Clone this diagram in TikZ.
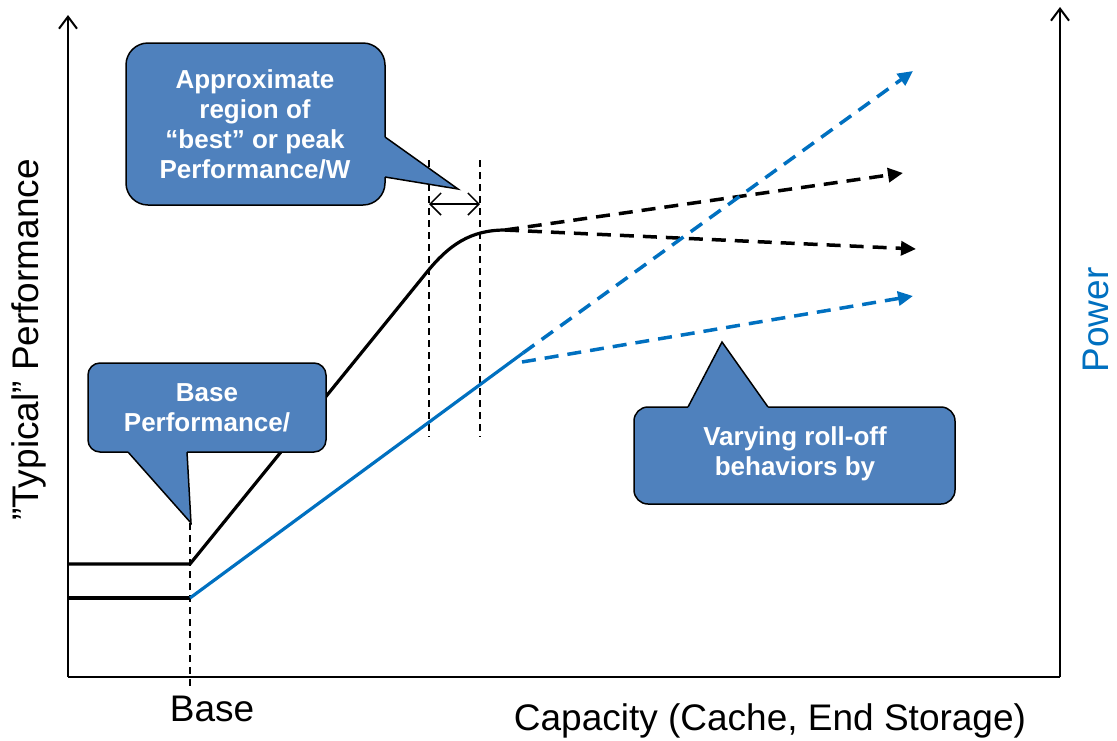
\documentclass[tikz,border=0pt]{standalone}
\usepackage{fontspec}
\setmainfont{Liberation Sans}
\usetikzlibrary{arrows.meta}
\definecolor{boxblue}{HTML}{4F81BD}
\definecolor{powerblue}{HTML}{0070C0}

\begin{document}
\begin{tikzpicture}[x = 1pt, y = -1pt,
                        axis/.style = {line width = 2pt, -{Straight Barb[length = 12pt, width = 18pt]}},
                        guide/.style = {line width = 1.3pt, dash pattern = on 7pt off 5pt},
                        perf/.style = {line width = 3.2pt, line join = round},
                        pow/.style = {line width = 3.2pt, draw = powerblue},
                        trend/.style = {line width = 3.5pt, dash pattern = on 14pt off 9pt, -{Triangle[length = 15pt, width = 14pt]}},
                        calloutbox/.style = {fill = boxblue, draw = black, line width = 1.5pt},
                        notetext/.style = {text = white, align = center, font = \fontsize{26}{30}\selectfont\bfseries},
                        axistext/.style = {inner sep = 0pt, font = \fontsize{37}{40}\selectfont}]
      \useasboundingbox (0, 0) rectangle (1117, 740);
      \coordinate (origin) at (68, 677);
      \coordinate (ytop) at (68, 15);
      \coordinate (xend) at (1060, 677);
      \coordinate (ptop) at (1060, 7);
      \draw [axis] (origin) -- (ytop);
      \draw [axis] (xend) -- (ptop);
      \draw [line width = 2pt] (origin) -- (xend);
      \coordinate (perfstart) at (68, 564);
      \coordinate (perfbase) at (190, 564);
      \coordinate (perfbend) at (427, 272);
      \coordinate (peak) at (505, 230);
      \coordinate (powstart) at (68, 598);
      \coordinate (powbase) at (190, 598);
      \coordinate (powknee) at (523, 353);
      \coordinate (powlow) at (522, 362);
      \draw [guide] (190, 523) -- (190, 690);
      \draw [guide] (429, 160) -- (429, 437);
      \draw [guide] (480, 160) -- (480, 437);
      \draw [line width = 1.5pt, {Straight Barb[length = 11pt, width = 22pt]}-{Straight Barb[length = 11pt, width = 22pt]}] (429, 204) -- (480, 204);
      \draw [perf] (perfstart) -- (perfbase) -- (perfbend) to [out = 51, in = 180] (peak);
      \draw [perf] (powstart) -- (powbase);
      \draw [pow] (powbase) -- (powknee);
      \draw [trend] (peak) -- (903, 173);
      \draw [trend] (peak) -- (916, 249);
      \draw [trend, powerblue] (powknee) -- (913, 71);
      \draw [trend, powerblue] (powlow) -- (913, 296);
      \filldraw [calloutbox, rounded corners = 22pt] (126, 43) rectangle (385, 205);
      \fill [boxblue] (378, 137) -- (385, 137) -- (458, 189) -- (385, 177) -- (378, 177) -- cycle;
      \draw [calloutbox, fill = none] (385, 137) -- (458, 189) -- (385, 177);
      \node [notetext] (bestnote) at (255, 124) {Approximate\\region of\\“best” or peak\\Performance/W};
      \filldraw [calloutbox, rounded corners = 12pt] (88, 363) rectangle (326, 452);
      \fill [boxblue] (128, 445) -- (128, 452) -- (191, 523) -- (187, 452) -- (187, 445) -- cycle;
      \draw [calloutbox, fill = none] (128, 452) -- (191, 523) -- (187, 452);
      \node [notetext] (basenote) at (207, 408) {Base\\Performance/};
      \filldraw [calloutbox, rounded corners = 14pt] (634, 407) rectangle (955, 504);
      \fill [boxblue] (688, 414) -- (688, 407) -- (722, 342) -- (768, 407) -- (768, 414) -- cycle;
      \draw [calloutbox, fill = none] (688, 407) -- (722, 342) -- (768, 407);
      \node [notetext] (rollnote) at (795, 454) {Varying roll-off\\behaviors by};
      \node [axistext, anchor = base] (xbase) at (212, 721) {Base};
      \node [axistext, anchor = base] (xcap) at (770, 730) {Capacity (Cache, End Storage)};
      \node [axistext, rotate = 90] (yperf) at (29, 340) {”Typical” Performance};
      \node [axistext, rotate = 90, text = powerblue] (ypow) at (1096, 320) {Power};
    \end{tikzpicture}
\end{document}
